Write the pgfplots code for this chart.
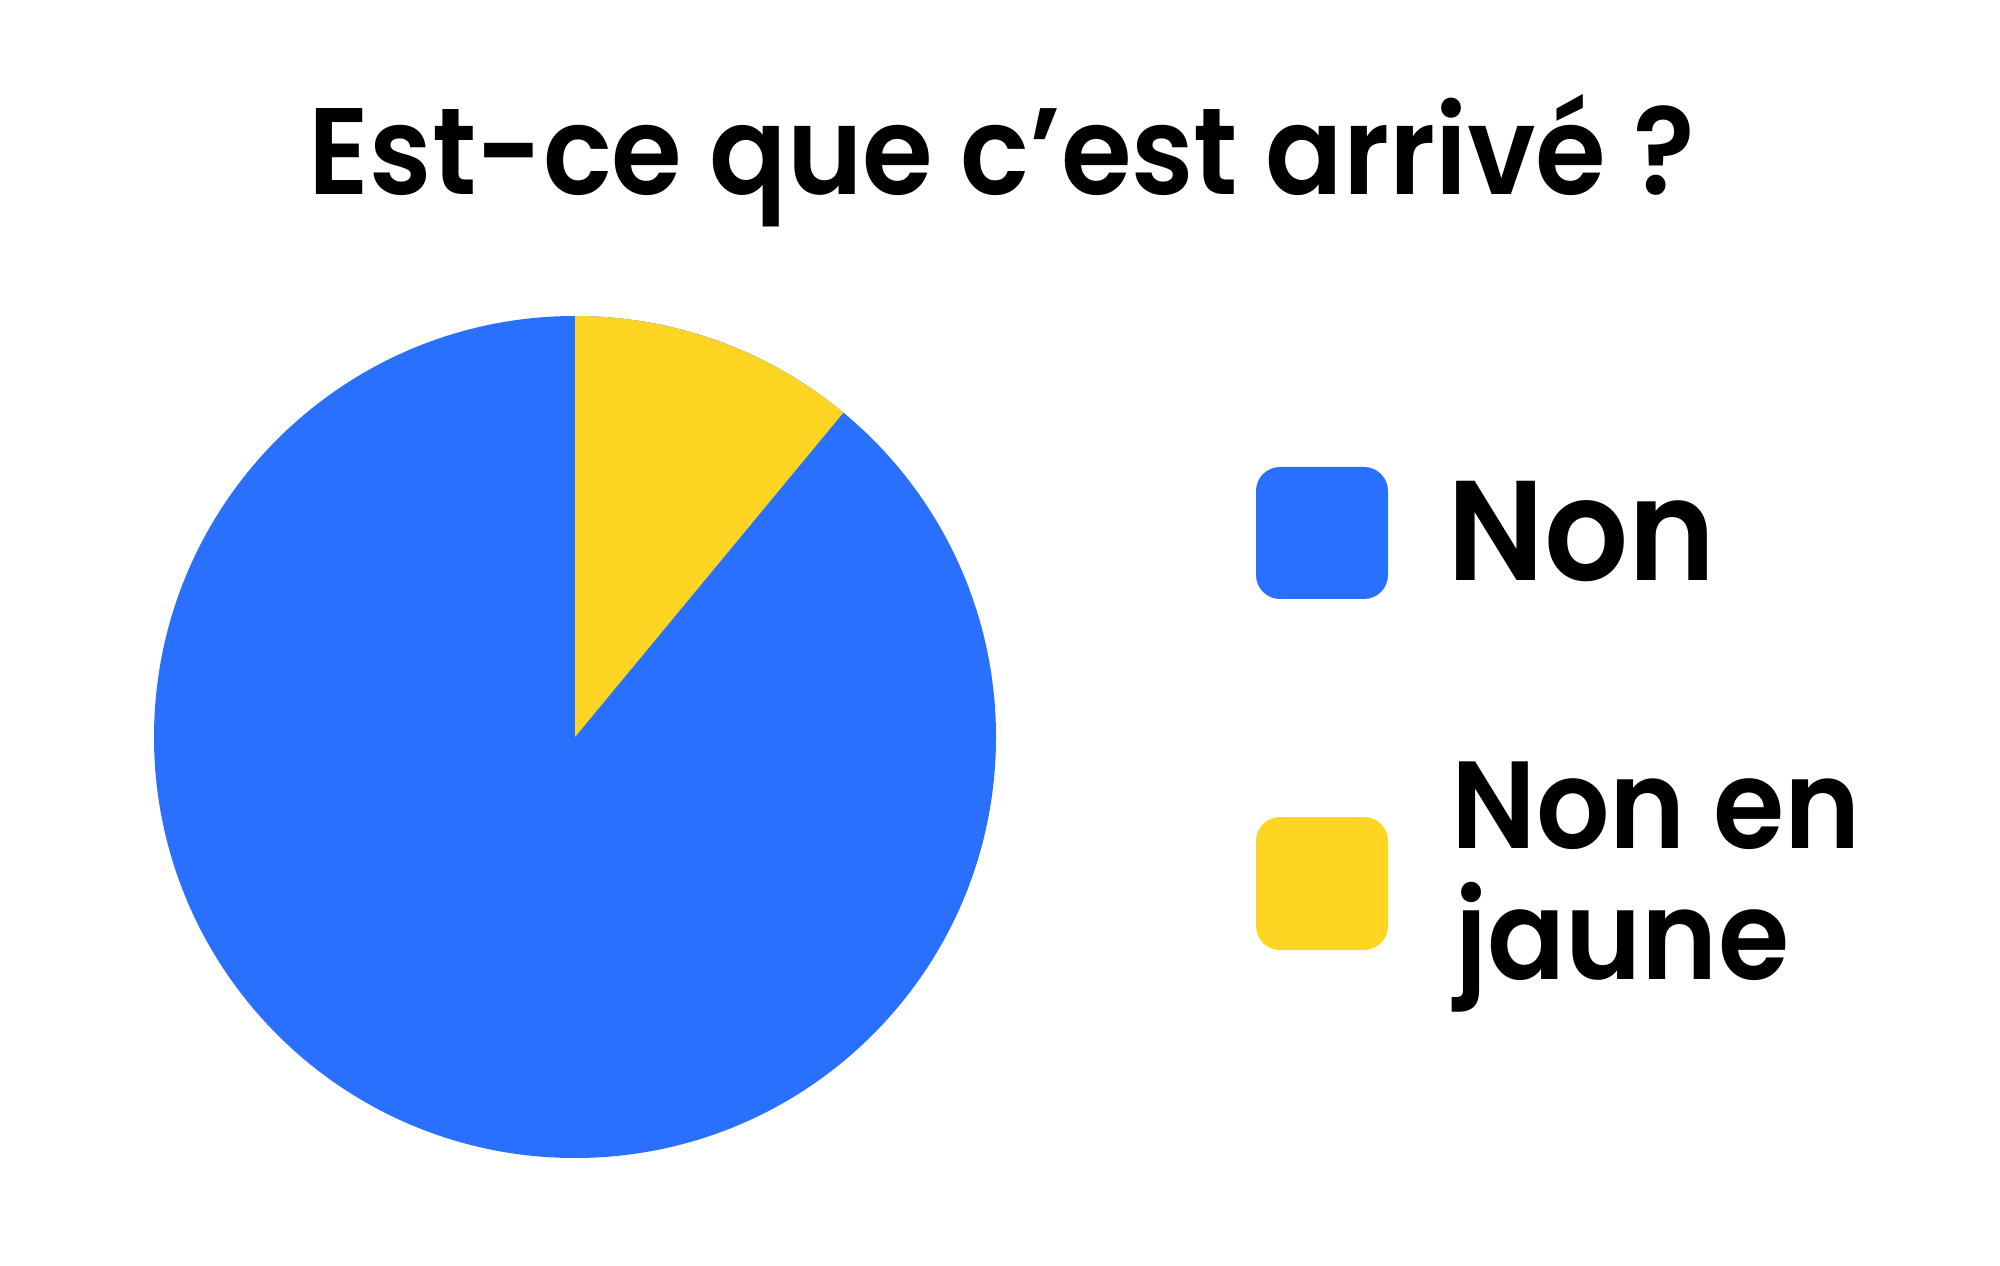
\documentclass[border=0pt]{standalone}
\usepackage{fontspec}
\setmainfont{Poppins}[BoldFont={Poppins SemiBold}, FakeStretch=0.93]
\usepackage{pgfplots}
\pgfplotsset{compat=1.18}
\definecolor{pieblue}{RGB}{41,112,255}
\definecolor{pieyellow}{RGB}{253,213,34}
% data (percent)
\def\valNon{89}
\def\valJaune{11}
\begin{document}
\begin{tikzpicture}
\path (0,0) rectangle (1000pt,632.5pt);
\begin{axis}[
  at={(0,0)}, anchor=south west,
  width=1000pt, height=632.5pt, scale only axis,
  xmin=0, xmax=2000, ymin=0, ymax=1265,
  hide axis, clip=false,
]
\pgfmathsetmacro{\angJ}{90-360*\valJaune/100}
% Non (blue)
\fill[pieblue] (axis cs:575,528) -- ++(90:210.5pt) arc[start angle=90, end angle=\angJ-360, radius=210.5pt] -- cycle;
% Non en jaune (yellow)
\fill[pieyellow] (axis cs:575,528) -- ++(90:210.5pt) arc[start angle=90, end angle=\angJ, radius=210.5pt] -- cycle;
% legend
\fill[pieblue, rounded corners=12pt] (axis cs:1256,666) rectangle (axis cs:1388,798);
\fill[pieyellow, rounded corners=12pt] (axis cs:1256,315) rectangle (axis cs:1388,448);
\node[anchor=base west, inner sep=0pt, font=\fontsize{71}{80}\selectfont\bfseries] at (axis cs:1447,684) {Non};
\node[anchor=base west, inner sep=0pt, font=\fontsize{62}{65.5}\selectfont\bfseries] at (axis cs:1451,417) {Non en};
\node[anchor=base west, inner sep=0pt, font=\fontsize{62}{65.5}\selectfont\bfseries] at (axis cs:1455,286) {jaune};
% title
\node[anchor=base, inner sep=0pt, font=\fontsize{61.5}{70}\selectfont\bfseries] at (axis cs:1002,1070) {Est-ce que c’est arrivé ?};
\end{axis}
\end{tikzpicture}
\end{document}
